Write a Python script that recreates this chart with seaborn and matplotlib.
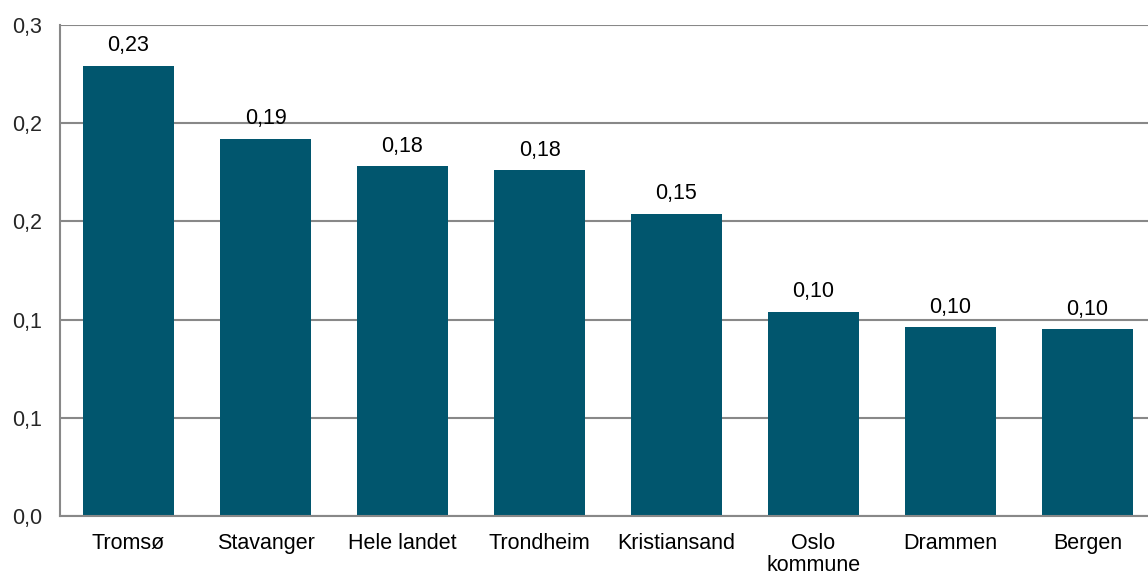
import pandas as pd
import matplotlib.pyplot as plt
import seaborn as sns

# data
byer = ['Tromsø', 'Stavanger', 'Hele landet', 'Trondheim', 'Kristiansand',
        'Oslo\nkommune', 'Drammen', 'Bergen']
verdier = [0.229, 0.192, 0.178, 0.176, 0.154, 0.104, 0.096, 0.095]
etiketter = ['0,23', '0,19', '0,18', '0,18', '0,15', '0,10', '0,10', '0,10']
y_ticks = [0.0, 0.05, 0.10, 0.15, 0.20, 0.25]
y_tick_labels = ['0,0', '0,1', '0,1', '0,2', '0,2', '0,3']

sns.set_style("white")
plt.rcParams['font.family'] = ['Liberation Sans', 'DejaVu Sans']
fs = 15.5

df = pd.DataFrame({'by': byer, 'verdi': verdier})

fig = plt.figure(figsize=(11.48, 5.73), dpi=100)
ax = fig.add_axes([60 / 1148, 1 - 516 / 573, 1096 / 1148, 491 / 573])
ax.set_axisbelow(True)

sns.barplot(data=df, x='by', y='verdi', color='#01566E', saturation=1,
            width=0.67, linewidth=0, ax=ax)

# verdietiketter over søylene
for i, (v, lab) in enumerate(zip(verdier, etiketter)):
    ax.text(i, v + 0.005, lab, ha='center', va='bottom', fontsize=fs, color='black')

# kategorinavn under aksen (baseline-justert, linje for linje)
linjehoyde = 22 / 491
for i, navn in enumerate(byer):
    for j, linje in enumerate(navn.split('\n')):
        ax.text(i, -0.067 - j * linjehoyde, linje, transform=ax.get_xaxis_transform(),
                ha='center', va='baseline', fontsize=fs, color='black')

ax.set_ylim(0, 0.25)
ax.set_xlim(-0.5, len(byer) - 0.5)
ax.set_yticks(y_ticks)
ax.set_yticklabels(y_tick_labels, fontsize=fs)
ax.set_xticks([i - 0.5 for i in range(len(byer))])
ax.set_xticklabels([])
ax.tick_params(axis='x', length=5, color='#888888', width=1.2)
ax.tick_params(axis='y', length=6, color='#888888', width=1.2, pad=7)
ax.set_xlabel('')
ax.set_ylabel('')

ax.grid(axis='y', color='#888888', linewidth=1.5)
for s in ['top', 'right']:
    ax.spines[s].set_visible(False)
for s in ['left', 'bottom']:
    ax.spines[s].set_color('#888888')
    ax.spines[s].set_linewidth(1.5)

plt.savefig('out.png', dpi=100)
plt.close()
